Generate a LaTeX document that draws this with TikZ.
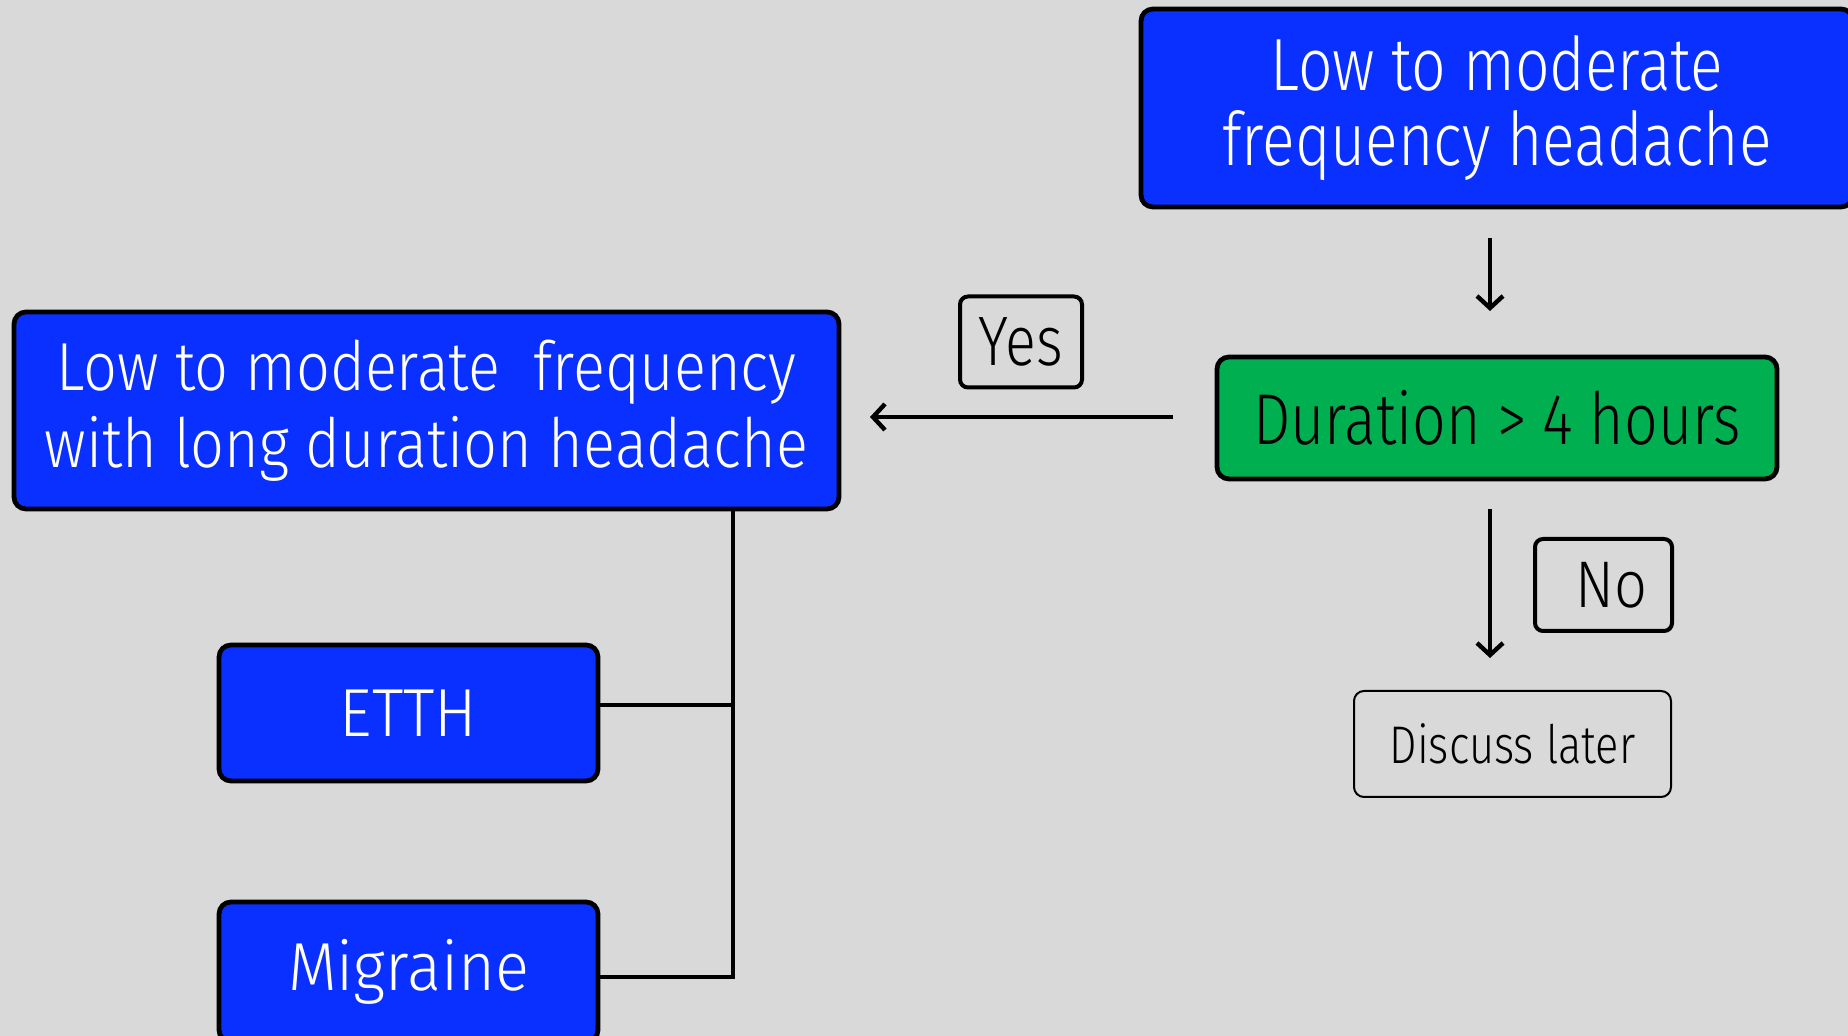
\documentclass[tikz,border=0pt]{standalone}
\usepackage{fontspec}
\setmainfont{Fira Sans}[UprightFont=* Light, FakeStretch=0.82]
\newfontfamily\widerface{Fira Sans}[UprightFont=* Light, FakeStretch=0.875]
\newfontfamily\widestface{Fira Sans}[UprightFont=* Light, FakeStretch=0.93]
\usetikzlibrary{arrows.meta}
\definecolor{bg}{HTML}{D9D9D9}
\definecolor{boxblue}{HTML}{0A30FF}
\definecolor{boxgreen}{HTML}{00B050}
\begin{document}
\begin{tikzpicture}[x=0.5pt,y=-0.5pt,
  bluebox/.style={draw=black, line width=2.4pt, rounded corners=6pt, fill=boxblue,
    text=white, align=center, inner sep=0pt},
  greenbox/.style={draw=black, line width=2.4pt, rounded corners=6pt, fill=boxgreen,
    text=black, align=center, inner sep=0pt},
  tagbox/.style={draw=black, line width=2pt, rounded corners=4pt, align=center, inner sep=0pt},
  plainbox/.style={draw=black, line width=1pt, rounded corners=5pt, align=center, inner sep=0pt},
  flow/.style={line width=2.2pt, -{Straight Barb[length=6pt,width=13pt,line width=2.2pt]}},
  link/.style={line width=1.8pt}]
  \useasboundingbox (0,0) rectangle (1848,1036);
  \fill[bg] (0,0) rectangle (1848,1036);
  \clip (0,0) rectangle (1848,1036);

  % main boxes
  \node[bluebox, minimum width=712*0.5pt, minimum height=198*0.5pt,
    font=\fontsize{37}{37.5}\selectfont] (top) at (1497,108)
    {Low to moderate\\ frequency headache};
  \node[greenbox, minimum width=560*0.5pt, minimum height=122*0.5pt,
    font=\fontsize{36}{38}\selectfont] (dur) at (1497,418)
    {Duration > 4 hours};
  \node[bluebox, minimum width=825*0.5pt, minimum height=197*0.5pt,
    font=\widerface\fontsize{34}{38.5}\selectfont] (long) at (426.5,410.5)
    {Low to moderate\ \ frequency\\ with long duration headache};
  \node[bluebox, minimum width=379*0.5pt, minimum height=136*0.5pt,
    font=\widestface\fontsize{34}{38}\selectfont] (etth) at (408.5,713)
    {ETTH};
  \node[bluebox, minimum width=379*0.5pt, minimum height=140*0.5pt,
    font=\widestface\fontsize{34}{38}\selectfont] (mig) at (408.5,972)
    {Migraine};
  \node[plainbox, minimum width=317*0.5pt, minimum height=106*0.5pt,
    font=\fontsize{26.5}{30}\selectfont] (later) at (1512.5,744)
    {Discuss later};

  % answer tags
  \node[tagbox, minimum width=122*0.5pt, minimum height=91*0.5pt,
    font=\fontsize{35}{38}\selectfont] (yes) at (1021,342)
    {Yes};
  \node[tagbox, minimum width=137*0.5pt, minimum height=92*0.5pt,
    font=\widerface\fontsize{33}{38}\selectfont] (no) at (1603.5,585)
    {\hspace*{8pt}No};

  % arrows
  \coordinate (a1s) at (1490,238);
  \coordinate (a1e) at (1490,311);
  \draw[flow] (a1s) -- (a1e);
  \coordinate (a2s) at (1173,417);
  \coordinate (a2e) at (870,417);
  \draw[flow] (a2s) -- (a2e);
  \coordinate (a3s) at (1490,509);
  \coordinate (a3e) at (1490,658);
  \draw[flow] (a3s) -- (a3e);

  % bracket joining the two diagnoses
  \coordinate (vtop) at (long.south -| 733,0);
  \coordinate (vetth) at (733,705);
  \coordinate (vmig) at (733,977);
  \draw[link] (vtop) -- (vmig) -- (vmig -| mig.east);
  \draw[link] (vetth) -- (vetth -| etth.east);
\end{tikzpicture}
\end{document}
